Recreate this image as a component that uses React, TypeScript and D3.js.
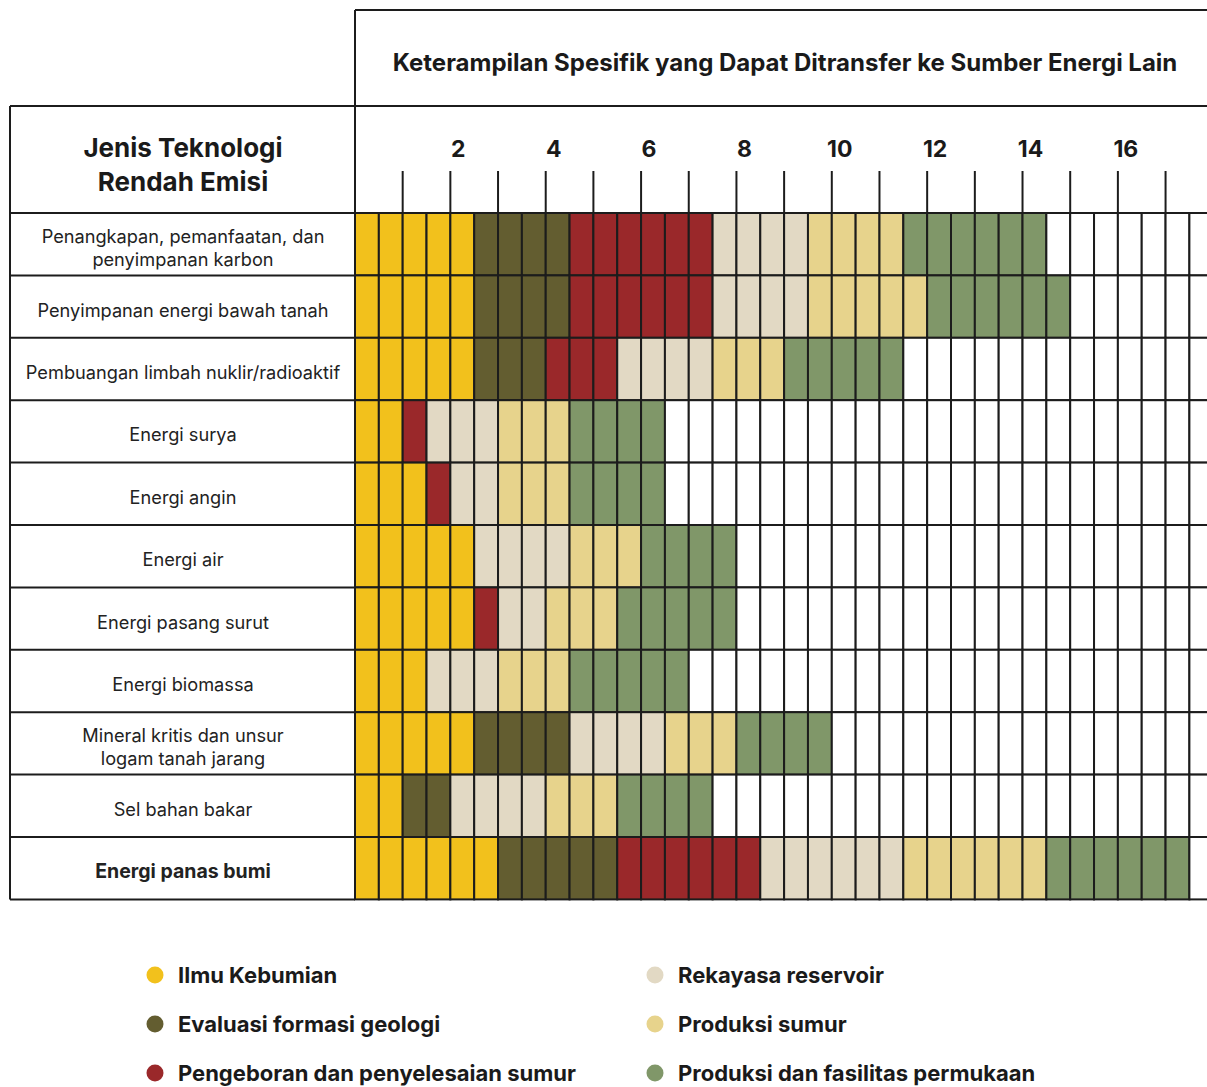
import { useEffect, useRef } from "react";
import * as d3 from "d3";

const technologies = [
    ["Penangkapan, pemanfaatan, dan", "penyimpanan karbon"],
    ["Penyimpanan energi bawah tanah"],
    ["Pembuangan limbah nuklir/radioaktif"],
    ["Energi surya"],
    ["Energi angin"],
    ["Energi air"],
    ["Energi pasang surut"],
    ["Energi biomassa"],
    ["Mineral kritis dan unsur", "logam tanah jarang"],
    ["Sel bahan bakar"],
    ["Energi panas bumi"],
];

const skills = [
    "Ilmu Kebumian",
    "Evaluasi formasi geologi",
    "Pengeboran dan penyelesaian sumur",
    "Rekayasa reservoir",
    "Produksi sumur",
    "Produksi dan fasilitas permukaan",
];

const skillColors = ["#f2c11c", "#635d30", "#9a282a", "#e2d9c4", "#e7d38c", "#809769"];

// number of cells per skill, per technology (same order as skills)
const ilmuKebumian = [5, 5, 5, 2, 3, 5, 5, 3, 5, 2, 6];
const evaluasiFormasi = [4, 4, 3, 0, 0, 0, 0, 0, 4, 2, 5];
const pengeboran = [6, 6, 3, 1, 1, 0, 1, 0, 0, 0, 6];
const rekayasaReservoir = [4, 4, 4, 3, 2, 4, 2, 3, 4, 4, 6];
const produksiSumur = [4, 5, 3, 3, 3, 3, 3, 3, 3, 3, 6];
const produksiFasilitas = [6, 6, 5, 4, 4, 4, 5, 5, 4, 4, 6];

const tickUnits = d3.range(1, 18);
const tickLabels = [2, 4, 6, 8, 10, 12, 14, 16];
const numCells = 36;

const FONT = "Inter, 'Noto Sans', sans-serif";

const App = () => {
    const chartRef = useRef<SVGSVGElement | null>(null);

    useEffect(() => {
        if (!chartRef.current) return;
        d3.select(chartRef.current).selectAll("*").remove();

        const width = 1207;
        const height = 1087;
        const cellW = 23.84;
        const gridLeft = 355;
        const tableLeft = 10;
        const headTop = 10;
        const headMid = 106;
        const rowsTop = 213;
        const rowH = 62.4;

        const svg = d3
            .select(chartRef.current)
            .attr("width", width)
            .attr("height", height);

        const series = [ilmuKebumian, evaluasiFormasi, pengeboran, rekayasaReservoir, produksiSumur, produksiFasilitas];

        // cells per row -> color index (or -1 for empty)
        const cellData: { row: number; col: number; skill: number }[] = [];
        technologies.forEach((_, r) => {
            let col = 0;
            series.forEach((s, k) => {
                for (let c = 0; c < s[r]; c++) cellData.push({ row: r, col: col++, skill: k });
            });
            for (; col < numCells; col++) cellData.push({ row: r, col, skill: -1 });
        });

        const xScale = d3
            .scaleBand<number>()
            .domain(d3.range(numCells))
            .range([gridLeft, gridLeft + numCells * cellW])
            .padding(0);

        const yScale = d3
            .scaleBand<number>()
            .domain(d3.range(technologies.length))
            .range([rowsTop, rowsTop + technologies.length * rowH])
            .padding(0);

        // one unit on the skill scale = two cells
        const unitScale = d3
            .scaleLinear()
            .domain([0, 1])
            .range([gridLeft, gridLeft + 2 * cellW]);

        const color = d3.scaleOrdinal<number, string>().domain(d3.range(6)).range(skillColors);

        const bottom = rowsTop + technologies.length * rowH;

        // cells
        svg.append("g")
            .selectAll("rect")
            .data(cellData)
            .enter()
            .append("rect")
            .attr("x", (d) => xScale(d.col)!)
            .attr("y", (d) => yScale(d.row)!)
            .attr("width", xScale.bandwidth())
            .attr("height", yScale.bandwidth())
            .attr("fill", (d) => (d.skill < 0 ? "#fff" : color(d.skill)))
            .attr("stroke", "#1c1c1c")
            .attr("stroke-width", 2);

        // table frame lines
        const lines = svg.append("g").attr("stroke", "#1c1c1c").attr("stroke-width", 2);
        lines.append("line").attr("x1", gridLeft).attr("x2", width + 10).attr("y1", headTop).attr("y2", headTop);
        lines.append("line").attr("x1", tableLeft).attr("x2", width + 10).attr("y1", headMid).attr("y2", headMid);
        lines.append("line").attr("x1", gridLeft).attr("x2", gridLeft).attr("y1", headTop).attr("y2", bottom);
        lines.append("line").attr("x1", tableLeft).attr("x2", tableLeft).attr("y1", headMid).attr("y2", bottom);
        lines
            .selectAll("line.row")
            .data(d3.range(technologies.length + 1))
            .enter()
            .append("line")
            .attr("class", "row")
            .attr("x1", tableLeft)
            .attr("x2", gridLeft)
            .attr("y1", (i) => rowsTop + i * rowH)
            .attr("y2", (i) => rowsTop + i * rowH);

        // ticks
        lines
            .selectAll("line.tick")
            .data(tickUnits)
            .enter()
            .append("line")
            .attr("class", "tick")
            .attr("x1", (d) => unitScale(d))
            .attr("x2", (d) => unitScale(d))
            .attr("y1", 171)
            .attr("y2", rowsTop);

        svg.append("g")
            .selectAll("text")
            .data(tickLabels)
            .enter()
            .append("text")
            .attr("x", (d) => unitScale(d) + 8)
            .attr("y", 157)
            .attr("text-anchor", "middle")
            .attr("font-family", FONT)
            .attr("font-weight", 700)
            .attr("font-size", 23)
            .attr("fill", "#1a1a1a")
            .text((d) => d);

        // titles
        svg.append("text")
            .attr("x", 785)
            .attr("y", 71)
            .attr("text-anchor", "middle")
            .attr("font-family", FONT)
            .attr("font-weight", 700)
            .attr("font-size", 24)
            .attr("fill", "#1a1a1a")
            .text("Keterampilan Spesifik yang Dapat Ditransfer ke Sumber Energi Lain");

        const head = svg
            .append("text")
            .attr("text-anchor", "middle")
            .attr("font-family", FONT)
            .attr("font-weight", 700)
            .attr("font-size", 26)
            .attr("fill", "#1a1a1a");
        head.append("tspan").attr("x", 183).attr("y", 157).text("Jenis Teknologi");
        head.append("tspan").attr("x", 183).attr("y", 191).text("Rendah Emisi");

        // row labels
        const labels = svg
            .append("g")
            .selectAll("text")
            .data(technologies)
            .enter()
            .append("text")
            .attr("text-anchor", "middle")
            .attr("font-family", FONT)
            .attr("font-size", (_, i) => (i === technologies.length - 1 ? 19.5 : 18.2))
            .attr("font-weight", (_, i) => (i === technologies.length - 1 ? 700 : 400))
            .attr("fill", "#222");
        labels.each(function (d, i) {
            const cy = yScale(i)! + rowH / 2;
            const t = d3.select(this);
            d.forEach((line, j) => {
                t.append("tspan")
                    .attr("x", 183)
                    .attr("y", cy + 10 + (j - (d.length - 1) / 2) * 23)
                    .text(line);
            });
        });

        // legend
        const legend = svg
            .append("g")
            .selectAll("g")
            .data(skills)
            .enter()
            .append("g")
            .attr("transform", (_, i) => `translate(${i < 3 ? 155 : 655}, ${975 + (i % 3) * 49})`);
        legend.append("circle").attr("r", 8.5).attr("fill", (_, i) => color(i));
        legend
            .append("text")
            .attr("x", 23)
            .attr("y", 8)
            .attr("font-family", FONT)
            .attr("font-weight", 700)
            .attr("font-size", 22)
            .attr("fill", "#1a1a1a")
            .text((d) => d);
    }, []);

    return (
        <div style={{ position: "absolute", left: 0, top: 0 }}>
            <svg ref={chartRef} style={{ display: "block" }}></svg>
        </div>
    );
};

export default App;
